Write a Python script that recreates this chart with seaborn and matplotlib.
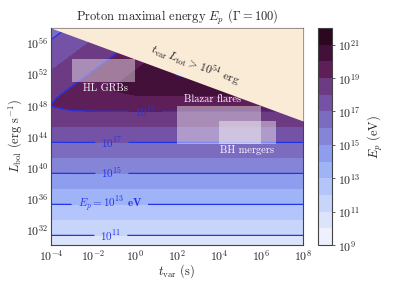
import numpy as np
import matplotlib
matplotlib.use('Agg')
import matplotlib.pyplot as plt
import seaborn as sns
from matplotlib.colors import ListedColormap
from matplotlib.patches import Rectangle
from matplotlib.ticker import FixedLocator, FuncFormatter

# grid: log10 t_var (s), log10 L_bol (erg/s), log10 E_p (eV)
log_tvar = [-4, -3, -2, -1, 0, 1, 2, 3, 4, 5, 6, 7, 8]
log_lbol = [30, 46, 47, 48, 49, 50, 51, 52, 53, 54, 55, 56, 57, 58]
log_ep = [
    [10.38, 10.38, 10.38, 10.38, 10.38, 10.38, 10.38, 10.38, 10.38, 10.38, 10.38, 10.38, 10.38],
    [18.37, 18.38, 18.38, 18.38, 18.38, 18.38, 18.38, 18.38, 18.38, 18.38, 18.38, 18.38, 18.38],
    [18.83, 18.87, 18.87, 18.88, 18.88, 18.88, 18.88, 18.88, 18.88, 18.88, 18.88, 18.88, 18.88],
    [19.02, 19.27, 19.35, 19.37, 19.38, 19.38, 19.38, 19.38, 19.38, 19.38, 19.38, 19.38, 19.38],
    [18.87, 19.33, 19.67, 19.83, 19.87, 19.87, 19.88, 19.88, 19.88, 19.88, 19.88, 19.88, 19.88],
    [18.62, 19.12, 19.60, 20.02, 20.27, 20.35, 20.37, 20.38, 20.38, 20.38, 20.38, 20.38, 20.38],
    [18.37, 18.87, 19.37, 19.87, 20.33, 20.67, 20.83, 20.87, 20.87, 20.88, 20.88, 20.88, 20.88],
    [18.12, 18.62, 19.12, 19.62, 20.12, 20.60, 21.02, 21.27, 21.35, 21.37, 21.38, 21.38, 21.38],
    [17.87, 18.37, 18.87, 19.37, 19.87, 20.37, 20.87, 21.33, 21.67, 21.83, 21.87, 21.87, 21.88],
    [17.62, 18.12, 18.62, 19.12, 19.62, 20.12, 20.62, 21.12, 21.60, 22.02, 22.27, 22.35, 22.37],
    [17.37, 17.87, 18.37, 18.87, 19.37, 19.87, 20.37, 20.87, 21.37, 21.87, 22.33, 22.67, 22.83],
    [17.12, 17.62, 18.12, 18.62, 19.12, 19.62, 20.12, 20.62, 21.12, 21.62, 22.12, 22.60, 23.02],
    [16.87, 17.37, 17.87, 18.37, 18.87, 19.37, 19.87, 20.37, 20.87, 21.37, 21.87, 22.37, 22.87],
    [16.62, 17.12, 17.62, 18.12, 18.62, 19.12, 19.62, 20.12, 20.62, 21.12, 21.62, 22.12, 22.62],
]

band_colors = ['#eef1fd', '#dce4fb', '#c8d5fb', '#b3c5fb', '#9fb4f7', '#8e9ded', '#8585d8',
               '#7b6cc0', '#7453a6', '#6d3b84', '#5e1f58', '#421038', '#2b0720']
fill_levels = list(range(9, 23))
line_levels = [11, 13, 15, 17, 19, 21]
label_levels = [11, 13, 15, 17, 19]
label_text = {11: r'$\mathbf{10^{11}}$', 13: r'$\boldsymbol{E_p = 10^{13}}$ $\mathbf{eV}$',
              15: r'$\mathbf{10^{15}}$', 17: r'$\mathbf{10^{17}}$', 19: r'$\mathbf{10^{19}}$'}
label_pos = [(-1.15, 31.25), (-1.2, 35.25), (-1.1, 39.3), (-1.1, 43.25), (0.5, 47.25)]

# t_var * L_tot > 10^54 erg
log_energy_limit = 54

source_names = ['HL GRBs', 'Blazar flares', 'BH mergers']
src_tvar_lo = [-3, 2, 4]
src_tvar_hi = [0, 6, 6.7]
src_lbol_lo = [51, 43, 43]
src_lbol_hi = [54, 48, 46]
src_text_pos = [(-1.4, 50.2), (3.7, 48.8), (5.35, 42.2)]

sns.set_theme(style='ticks')
plt.rcParams['font.family'] = ['cmr10', 'DejaVu Serif']
plt.rcParams['mathtext.fontset'] = 'cm'
plt.rcParams['axes.formatter.use_mathtext'] = True
plt.rcParams['axes.unicode_minus'] = False

fig = plt.figure(figsize=(4.07, 2.81), dpi=100)
ax = fig.add_axes([0.1253, 0.1281, 0.6192, 0.7722])
cax = fig.add_axes([0.7813, 0.1281, 0.0344, 0.7722])

cmap = ListedColormap(sns.color_palette(band_colors))
cf = ax.contourf(log_tvar, log_lbol, log_ep, levels=fill_levels, cmap=cmap, zorder=1)
cs = ax.contour(log_tvar, log_lbol, log_ep, levels=line_levels, colors='#2233ee',
                linewidths=0.9, zorder=2)
clabels = ax.clabel(cs, levels=label_levels, fmt=label_text, manual=label_pos,
                    inline=True, inline_spacing=6, fontsize=8, colors='#2233ee')
for t in clabels:
    t.set_rotation(0)

for name, t0, t1, l0, l1, pos in zip(source_names, src_tvar_lo, src_tvar_hi,
                                      src_lbol_lo, src_lbol_hi, src_text_pos):
    ax.add_patch(Rectangle((t0, l0), t1 - t0, l1 - l0, fc='white', ec='none',
                           alpha=0.42, zorder=3))
    ax.text(pos[0], pos[1], name, color='white', fontsize=7.5, ha='center',
            va='center', zorder=5)

xlim = (log_tvar[0], log_tvar[-1])
ylim = (log_lbol[0], log_lbol[-1])
edge_t = np.array(xlim)
ax.fill_between(edge_t, log_energy_limit - edge_t, ylim[1], color='antiquewhite',
                lw=0, zorder=4)
ax.text(2.85, 53.15, r'$t_{\rm var}\,L_{\rm tot} > 10^{54}$ erg', fontsize=8.5,
        color='#222222', rotation=-20.4, ha='center', va='center', zorder=5)

ax.set_xlim(xlim)
ax.set_ylim(ylim)
pow_fmt = FuncFormatter(lambda v, p: r'$10^{%d}$' % round(v))
ax.xaxis.set_major_locator(FixedLocator(range(-4, 9, 2)))
ax.xaxis.set_minor_locator(FixedLocator(range(-3, 9, 2)))
ax.yaxis.set_major_locator(FixedLocator(range(32, 58, 4)))
ax.yaxis.set_minor_locator(FixedLocator([v for v in range(30, 59) if v % 4]))
ax.xaxis.set_major_formatter(pow_fmt)
ax.yaxis.set_major_formatter(pow_fmt)
ax.tick_params(which='both', direction='in', top=True, right=True, labelsize=8.5,
               color='#444444', width=0.6, pad=2)
ax.tick_params(which='major', length=3.5)
ax.tick_params(which='minor', length=2)
for s in ax.spines.values():
    s.set_color('#444444')
    s.set_linewidth(0.8)

ax.set_xlabel(r'$t_{\rm var}$ (s)', fontsize=9)
ax.xaxis.set_label_coords(0.5, -0.078)
ax.set_ylabel(r'$L_{\rm bol}$ (erg s$^{-1}$)', fontsize=9, labelpad=1)
ax.set_title(r'Proton maximal energy $E_p$ ($\Gamma = 100$)', fontsize=9, pad=5)

cbar = fig.colorbar(cf, cax=cax)
cbar.set_ticks(list(range(9, 23, 2)))
cbar.set_ticklabels([r'$10^{%d}$' % n for n in range(9, 23, 2)])
cbar.ax.tick_params(labelsize=8.5, length=2, width=0.6, color='#444444', pad=2.5)
cbar.outline.set_edgecolor('#444444')
cbar.outline.set_linewidth(0.8)
cbar.set_label(r'$E_p$ (eV)', fontsize=9, labelpad=4)

fig.savefig('out.png', dpi=100)
